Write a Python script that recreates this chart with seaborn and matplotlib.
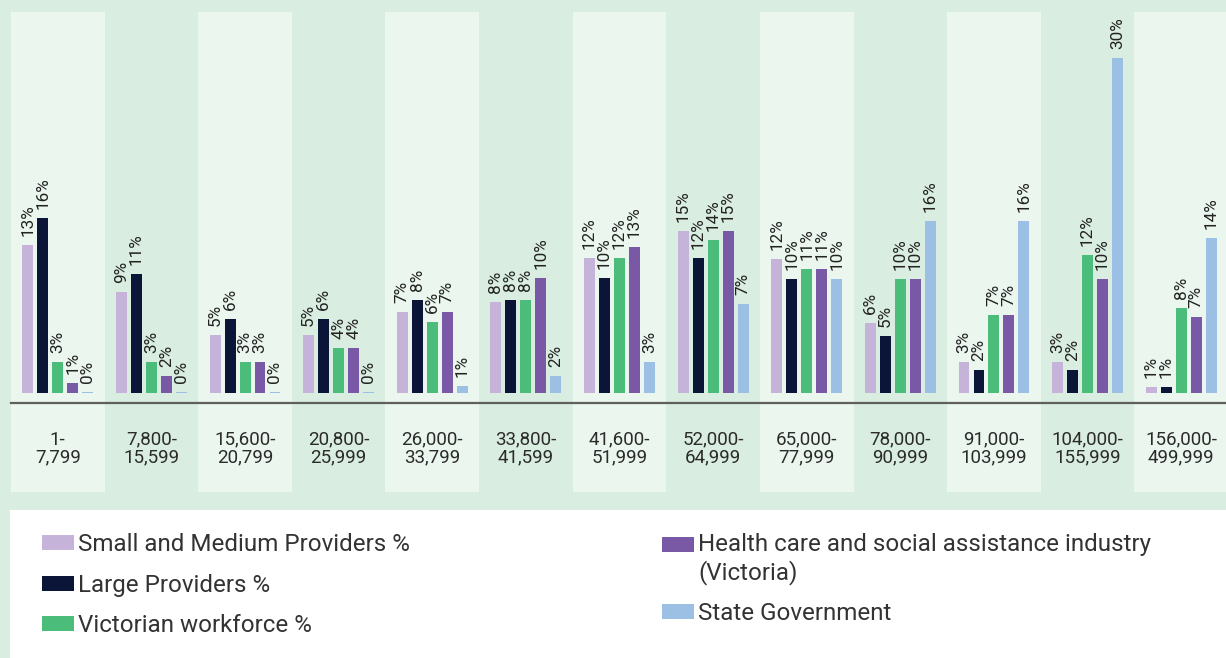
import matplotlib
matplotlib.use("Agg")
import matplotlib.pyplot as plt
from matplotlib.patches import Rectangle, Patch
import seaborn as sns
import pandas as pd

# ---------------- data ----------------
categories = ["1-\n7,799", "7,800-\n15,599", "15,600-\n20,799", "20,800-\n25,999",
              "26,000-\n33,799", "33,800-\n41,599", "41,600-\n51,999", "52,000-\n64,999",
              "65,000-\n77,999", "78,000-\n90,999", "91,000-\n103,999",
              "104,000-\n155,999", "156,000-\n499,999"]
series = ["Small and Medium Providers %", "Large Providers %", "Victorian workforce %",
          "Health care and social assistance industry\n(Victoria)", "State Government"]

small_medium = [13.3, 9.1, 5.2, 5.2, 7.3, 8.2, 12.1, 14.5, 12.0, 6.3, 2.8, 2.8, 0.5]
large = [15.7, 10.7, 6.6, 6.6, 8.3, 8.3, 10.3, 12.1, 10.2, 5.1, 2.1, 2.1, 0.5]
workforce = [2.8, 2.8, 2.8, 4.0, 6.4, 8.3, 12.1, 13.7, 11.1, 10.2, 7.0, 12.4, 7.6]
health = [0.9, 1.5, 2.8, 4.0, 7.3, 10.3, 13.1, 14.5, 11.1, 10.2, 7.0, 10.2, 6.8]
state_gov = [0.1, 0.1, 0.1, 0.1, 0.6, 1.5, 2.8, 8.0, 10.2, 15.4, 15.4, 30.0, 13.9]

small_medium_lbl = [13, 9, 5, 5, 7, 8, 12, 15, 12, 6, 3, 3, 1]
large_lbl = [16, 11, 6, 6, 8, 8, 10, 12, 10, 5, 2, 2, 1]
workforce_lbl = [3, 3, 3, 4, 6, 8, 12, 14, 11, 10, 7, 12, 8]
health_lbl = [1, 2, 3, 4, 7, 10, 13, 15, 11, 10, 7, 10, 7]
state_gov_lbl = [0, 0, 0, 0, 1, 2, 3, 7, 10, 16, 16, 30, 14]

colors = ["#c5b3d9", "#0b1537", "#4bbc7a", "#7959a6", "#9bc0e3"]

all_values = [small_medium, large, workforce, health, state_gov]
all_labels = [small_medium_lbl, large_lbl, workforce_lbl, health_lbl, state_gov_lbl]

rows = []
for s, vals in zip(series, all_values):
    for c, v in zip(categories, vals):
        rows.append({"band": c, "series": s, "value": v})
df = pd.DataFrame(rows)

# ---------------- figure ----------------
sns.set_theme(style="white")
plt.rcParams["font.family"] = ["Roboto", "DejaVu Sans"]

W, H = 1226, 658
BG = "#d9ede0"
LIGHT = "#ebf6ee"
fig = plt.figure(figsize=(W / 100, H / 100), dpi=100, facecolor=BG)

ax_left, ax_right = 11, 1228
ax_top, ax_bot = 12, 403
ax = fig.add_axes([ax_left / W, 1 - ax_bot / H, (ax_right - ax_left) / W, (ax_bot - ax_top) / H])
ax.set_facecolor("none")

px_per_unit = 11.15
zero_y = 393
ax.set_ylim(-(ax_bot - zero_y) / px_per_unit, (zero_y - ax_top) / px_per_unit)
ax.set_xlim(-0.5, len(categories) - 0.5)

# alternating panels (extend below the axis line)
panel_bottom = -(492 - ax_bot) / (ax_bot - ax_top)
for i in range(len(categories)):
    if i % 2 == 0:
        ax.add_patch(Rectangle((i - 0.5, panel_bottom), 1, 1 - panel_bottom,
                               transform=ax.get_xaxis_transform(), clip_on=False,
                               facecolor=LIGHT, edgecolor="none", zorder=0))

sns.barplot(data=df, x="band", y="value", hue="series", order=categories,
            hue_order=series, palette=colors, saturation=1, width=0.8, gap=0.27,
            linewidth=0, legend=False, ax=ax, zorder=2)

for cont, lbls in zip(ax.containers, all_labels):
    ax.bar_label(cont, labels=[f"{l}%" for l in lbls], rotation=90, padding=6.5,
                 fontsize=12.3, color="#222222")

for sp in ["top", "left", "right"]:
    ax.spines[sp].set_visible(False)
ax.spines["bottom"].set_color("#5f5f5f")
ax.spines["bottom"].set_linewidth(1.6)
ax.spines["bottom"].set_zorder(3)
ax.set_yticks([])
ax.set_xlabel("")
ax.set_ylabel("")
ax.set_xticks(range(len(categories)))
ax.set_xticklabels(categories, fontsize=13.5, color="#2b2b2b", linespacing=1.0)
ax.tick_params(axis="x", length=0, pad=20)

# legend box
fig.patches.append(Rectangle((10 / W, 0), 1 - 10 / W, (H - 510) / H,
                             transform=fig.transFigure, facecolor="white",
                             edgecolor="none", zorder=0))

handles = [Patch(facecolor=c, edgecolor="none") for c in colors]
leg_kw = dict(frameon=False, fontsize=17.4, handlelength=1.32, handleheight=0.58,
              handletextpad=0.17, labelspacing=0.73, borderpad=0, borderaxespad=0,
              labelcolor="#333333")
leg1 = fig.legend(handles[:3], series[:3], loc="upper left",
                  bbox_to_anchor=(42 / W, 1 - 533 / H), **leg_kw)
leg2 = fig.legend(handles[3:], series[3:], loc="upper left",
                  bbox_to_anchor=(662 / W, 1 - 533 / H), **leg_kw)
# align the two-line entry's swatch with its first line
h0 = leg2.legend_handles[0]
h0.set_y(h0.get_y() + 10.4)

fig.savefig("out.png", dpi=100, facecolor=BG)
